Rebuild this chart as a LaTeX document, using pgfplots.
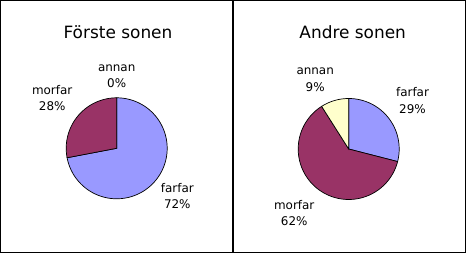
\documentclass[border=0pt]{standalone}
\usepackage{fontspec}
\setmainfont{DejaVu Sans}
\usepackage{pgfplots}
\pgfplotsset{compat=1.18}
\definecolor{farfar}{HTML}{9999FF}
\definecolor{morfar}{HTML}{993366}
\definecolor{annan}{HTML}{FFFFCC}
\newcommand{\lbl}{\fontsize{12}{14}\selectfont}
\newcommand{\ttl}{\fontsize{17}{20}\selectfont}
\pgfplotsset{piepanel/.style={x=1bp,y=1bp, enlargelimits=false, axis lines=box,
  xtick=\empty, ytick=\empty, axis line style={line width=1bp}, clip=false, anchor=south west},
  wedge/.style={data cs=polar, draw=black, line width=0.7bp, samples=120, mark=none}}
\begin{document}
\begin{tikzpicture}
% Förste sonen: farfar 72, morfar 28, annan 0
\begin{axis}[piepanel, at={(0.5bp,0.5bp)}, xmin=-116.2, xmax=115.8, ymin=-104.2, ymax=147.8]
\addplot[wedge, fill=farfar, domain=90:-169.2] {50.5} -- (axis cs:0,0) -- cycle;
\addplot[wedge, fill=morfar, domain=-169.2:-270] {50.5} -- (axis cs:0,0) -- cycle;
\node[anchor=base, font=\ttl] at (axis cs:1.3,110) {Förste sonen};
\node[anchor=base, font=\lbl] at (axis cs:0,77.3) {annan};
\node[anchor=base, font=\lbl] at (axis cs:0,60.6) {0\%};
\node[anchor=base, font=\lbl] at (axis cs:-64.5,54) {morfar};
\node[anchor=base, font=\lbl] at (axis cs:-64.5,37.6) {28\%};
\node[anchor=base, font=\lbl] at (axis cs:60.6,-44) {farfar};
\node[anchor=base, font=\lbl] at (axis cs:60.6,-60) {72\%};
\end{axis}
% Andre sonen: farfar 29, morfar 62, annan 9
\begin{axis}[piepanel, at={(233.5bp,0.5bp)}, xmin=-115.2, xmax=116.8, ymin=-103.5, ymax=148.5]
\addplot[wedge, fill=farfar, domain=90:-14.4] {50.5} -- (axis cs:0,0) -- cycle;
\addplot[wedge, fill=morfar, domain=-14.4:-237.6] {50.5} -- (axis cs:0,0) -- cycle;
\addplot[wedge, fill=annan, domain=-237.6:-270] {50.5} -- (axis cs:0,0) -- cycle;
\node[anchor=base, font=\ttl] at (axis cs:4,110.7) {Andre sonen};
\node[anchor=base, font=\lbl] at (axis cs:-33.5,74.7) {annan};
\node[anchor=base, font=\lbl] at (axis cs:-33.5,58) {9\%};
\node[anchor=base, font=\lbl] at (axis cs:63.8,52.3) {farfar};
\node[anchor=base, font=\lbl] at (axis cs:63.8,35.7) {29\%};
\node[anchor=base, font=\lbl] at (axis cs:-54.5,-60) {morfar};
\node[anchor=base, font=\lbl] at (axis cs:-54.5,-76.3) {62\%};
\end{axis}
\end{tikzpicture}
\end{document}
